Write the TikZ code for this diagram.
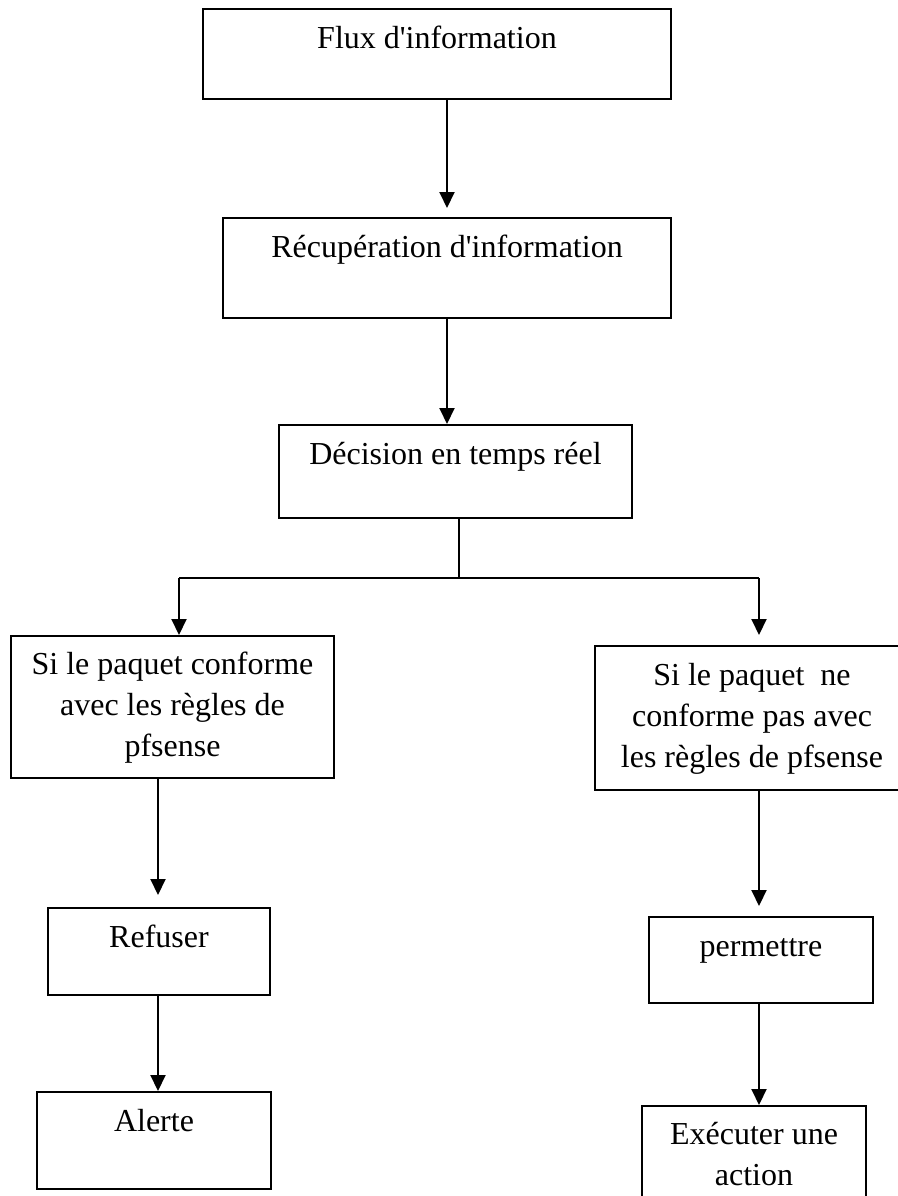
\documentclass[tikz,border=0pt]{standalone}
\usepackage{fontspec}
\setmainfont{Liberation Serif}
\usetikzlibrary{arrows.meta}
\newcommand{\fl}{\rule{0pt}{28pt}}
\newcommand{\apo}{\textquotesingle}
\tikzset{
  box/.style={draw=black, line width=2pt, inner sep=0pt, fill=white},
  lbl/.style={anchor=north, inner sep=0pt, align=center, font=\fontsize{32}{41}\selectfont},
  arr/.style={line width=2pt, -{Triangle[width=15pt,length=16pt]}},
  ln/.style={line width=2pt}
}
\begin{document}
\begin{tikzpicture}[x=1pt,y=-1pt]
\useasboundingbox (0,0) rectangle (897,1196);
\fill[white] (0,0) rectangle (897,1196);
% boxes
\node[box, minimum width=468pt, minimum height=90pt] (b1) at (437,54) {};
\node[box, minimum width=448pt, minimum height=100pt] (b2) at (447,268) {};
\node[box, minimum width=353pt, minimum height=93pt] (b3) at (455.5,471.5) {};
\node[box, minimum width=323pt, minimum height=142pt] (bl) at (172.5,707) {};
\node[box, minimum width=314pt, minimum height=144pt] (br) at (752,718) {};
\node[box, minimum width=222pt, minimum height=87pt] (ref) at (159,951.5) {};
\node[box, minimum width=234pt, minimum height=97pt] (al) at (154,1140.5) {};
\node[box, minimum width=224pt, minimum height=86pt] (per) at (761,960) {};
\node[box, minimum width=224pt, minimum height=109pt] (ex) at (754,1160.5) {};
% texts
\node[lbl] (t1) at ([yshift=-12pt]b1.north) {\fl Flux d\apo information};
\node[lbl] (t2) at ([yshift=-12pt]b2.north) {\fl Récupération d\apo information};
\node[lbl] (t3) at ([yshift=-12pt]b3.north) {\fl Décision en temps réel};
\node[lbl] (tl) at ([yshift=-11pt]bl.north) {\fl Si le paquet conforme\\avec les règles de\\pfsense};
\node[lbl] (tr) at ([yshift=-12pt]br.north) {\fl Si le paquet~ ne\\conforme pas avec\\les règles de pfsense};
\node[lbl] (tref) at ([yshift=-12pt]ref.north) {\fl Refuser};
\node[lbl] (tal) at ([yshift=-12pt]al.north) {\fl Alerte};
\node[lbl] (tper) at ([yshift=-12pt]per.north) {\fl permettre};
\node[lbl] (tex) at ([yshift=-11pt]ex.north) {\fl Exécuter une\\action};
% junction coordinates
\coordinate (j) at (459,578);
\coordinate (jl) at (179,578);
\coordinate (jr) at (759,578);
\coordinate (xl) at (158,0);
\coordinate (xr) at (759,0);
% connectors
\draw[arr, shorten >=9pt] (b2.north |- b1.south) -- (b2.north);
\draw[arr] (b2.south) -- (b2.south |- b3.north);
\draw[ln] (b3.south -| j) -- (j);
\draw[ln] (jl) -- (jr);
\draw[arr] (jl) -- (jl |- bl.north);
\draw[arr, shorten >=10pt] (jr) -- (jr |- br.north);
\draw[arr, shorten >=12pt] (xl |- bl.south) -- (xl |- ref.north);
\draw[arr] (xl |- ref.south) -- (xl |- al.north);
\draw[arr, shorten >=10pt] (xr |- br.south) -- (xr |- per.north);
\draw[arr] (xr |- per.south) -- (xr |- ex.north);
\end{tikzpicture}
\end{document}
